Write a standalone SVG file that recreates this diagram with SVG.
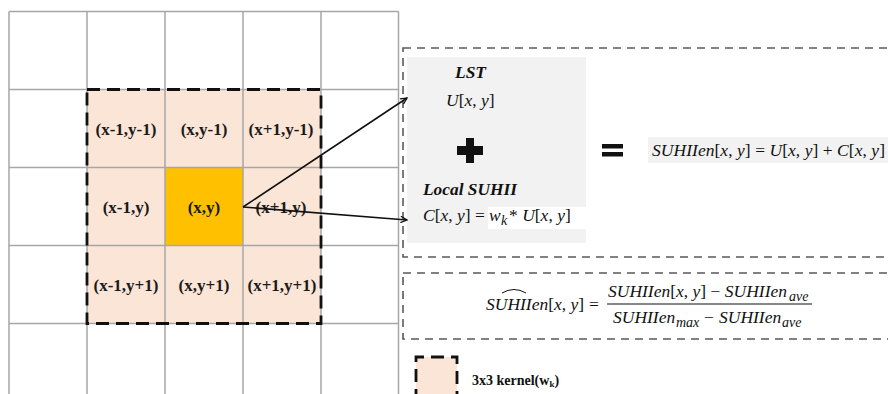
<svg xmlns="http://www.w3.org/2000/svg" width="888" height="394" viewBox="0 0 888 394">
  <defs>
    <style>
      .grid { stroke: #a6a6a6; stroke-width: 1.5; fill: none; }
      .kfill { fill: #fbe5d6; }
      .kborder { fill: none; stroke: #111; stroke-width: 2.8; stroke-dasharray: 13 7; }
      .cell { font-family: "Liberation Serif", "Times New Roman", serif; font-weight: bold; font-size: 17px; fill: #1a1a1a; text-anchor: middle; }
      .panel { fill: none; stroke: #5a5a5a; stroke-width: 1.6; stroke-dasharray: 8 6; }
      .title { font-family: "Liberation Serif", "Times New Roman", serif; font-weight: bold; font-style: italic; fill: #111; }
      .math { font-family: "Liberation Serif", "Times New Roman", serif; font-style: italic; font-size: 17.5px; fill: #111; }
      .up { font-style: normal; }
      .sub { font-size: 14px; }
      .conn { stroke: #111; stroke-width: 1.6; fill: none; }
      .legend { font-family: "Liberation Serif", "Times New Roman", serif; font-weight: bold; font-size: 14px; fill: #111; }
    </style>
    <marker id="arrow" viewBox="0 0 10 10" refX="9" refY="5" markerWidth="8" markerHeight="8" markerUnits="userSpaceOnUse" orient="auto">
      <path d="M1,1 L9,5 L1,9" fill="none" stroke="#111" stroke-width="1.6"/>
    </marker>
  </defs>

  <rect width="888" height="394" fill="#ffffff"/>

  <!-- kernel fill and centre pixel -->
  <g id="kernel">
    <rect class="kfill" x="87" y="89.5" width="234" height="234"/>
    <rect id="center-pixel" x="165" y="167.5" width="78" height="78" fill="#ffc000"/>
  </g>

  <!-- pixel grid -->
  <g id="grid">
    <path class="grid" d="M9,11.5 V394 M87,11.5 V394 M165,11.5 V394 M243,11.5 V394 M321,11.5 V394 M398.5,11.5 V394
      M9,11.5 H398.5 M9,89.5 H398.5 M9,167.5 H398.5 M9,245.5 H398.5 M9,323.5 H398.5"/>
  </g>

  <rect class="kborder" x="87" y="89.5" width="234" height="234"/>

  <!-- kernel cell labels -->
  <g id="cell-r0c0"><text class="cell" x="126" y="134.5">(x-1,y-1)</text></g>
  <g id="cell-r0c1"><text class="cell" x="204" y="134.5">(x,y-1)</text></g>
  <g id="cell-r0c2"><text class="cell" x="281" y="134.5">(x+1,y-1)</text></g>
  <g id="cell-r1c0"><text class="cell" x="126" y="212.5">(x-1,y)</text></g>
  <g id="cell-r1c1"><text class="cell" x="204" y="212.5">(x,y)</text></g>
  <g id="cell-r1c2"><text class="cell" x="281" y="212.5">(x+1,y)</text></g>
  <g id="cell-r2c0"><text class="cell" x="126" y="290.5">(x-1,y+1)</text></g>
  <g id="cell-r2c1"><text class="cell" x="204" y="290.5">(x,y+1)</text></g>
  <g id="cell-r2c2"><text class="cell" x="282" y="290.5">(x+1,y+1)</text></g>

  <!-- enhanced SUHII panel -->
  <g id="panel-sum">
    <rect class="panel" x="403" y="48" width="500" height="209"/>
    <rect x="407" y="57" width="179" height="186" fill="#f2f2f2"/>
    <rect x="488" y="207" width="98" height="22" fill="#ffffff"/>
    <text class="title" x="455" y="78" font-size="17" textLength="31" lengthAdjust="spacingAndGlyphs">LST</text>
    <text class="math" x="446" y="106">U<tspan class="up">[</tspan>x<tspan class="up">, </tspan>y<tspan class="up">]</tspan></text>
    <path d="M466,138 H474 V146 H483 V155 H474 V163 H466 V155 H457 V146 H466 Z" fill="#111"/>
    <text class="title" x="423" y="195" font-size="17.5" textLength="94" lengthAdjust="spacingAndGlyphs">Local SUHII</text>
    <text class="math" x="423" y="221">C<tspan class="up">[</tspan>x<tspan class="up">, </tspan>y<tspan class="up">] =</tspan></text>
    <text class="math" x="489" y="221">w</text>
    <text class="math sub" x="501" y="225" font-size="12">k</text>
    <text class="math" x="509" y="221"><tspan class="up">* </tspan>U<tspan class="up">[</tspan>x<tspan class="up">, </tspan>y<tspan class="up">]</tspan></text>
    <path d="M602,144 H623 V148.5 H602 Z M602,152 H623 V156.5 H602 Z" fill="#111"/>
    <rect x="648" y="137" width="240" height="26" fill="#f2f2f2"/>
    <text class="math" x="652" y="156" textLength="233" lengthAdjust="spacing">SUHIIen<tspan class="up">[</tspan>x<tspan class="up">, </tspan>y<tspan class="up">] = </tspan>U<tspan class="up">[</tspan>x<tspan class="up">, </tspan>y<tspan class="up">] + </tspan>C<tspan class="up">[</tspan>x<tspan class="up">, </tspan>y<tspan class="up">]</tspan></text>
  </g>

  <!-- normalisation panel -->
  <g id="panel-norm">
    <rect class="panel" x="403" y="273" width="500" height="66"/>
    <text class="math" x="486" y="310">SUHIIen<tspan class="up">[</tspan>x<tspan class="up">, </tspan>y<tspan class="up">]</tspan></text>
    <path d="M502,293 Q514,286 526,293" fill="none" stroke="#111" stroke-width="1"/>
    <text class="math up" x="589" y="310">=</text>
    <text class="math" x="608" y="297">SUHIIen<tspan class="up">[</tspan>x<tspan class="up">, </tspan>y<tspan class="up">] − </tspan>SUHIIen</text>
    <text class="math sub" x="789" y="301">ave</text>
    <line x1="607" y1="304" x2="812" y2="304" stroke="#111" stroke-width="1.2"/>
    <text class="math" x="613" y="323">SUHIIen</text>
    <text class="math sub" x="676" y="327">max</text>
    <text class="math up" x="704" y="323">−</text>
    <text class="math" x="719" y="323">SUHIIen</text>
    <text class="math sub" x="782" y="327">ave</text>
  </g>

  <!-- legend -->
  <g id="legend">
    <rect class="kfill" x="416" y="357" width="41" height="45"/>
    <path class="kborder" d="M416,402 V357 H457 V402" stroke-width="2.4" stroke-dasharray="11 6"/>
    <text class="legend" x="472" y="385">3x3 kernel(w<tspan font-size="9" dy="2">k</tspan><tspan dy="-2">)</tspan></text>
  </g>

  <!-- connectors from the centre pixel -->
  <g id="connectors">
    <line class="conn" x1="243" y1="207" x2="407" y2="98" marker-end="url(#arrow)"/>
    <line class="conn" x1="243" y1="207" x2="407" y2="220" marker-end="url(#arrow)"/>
  </g>
</svg>
